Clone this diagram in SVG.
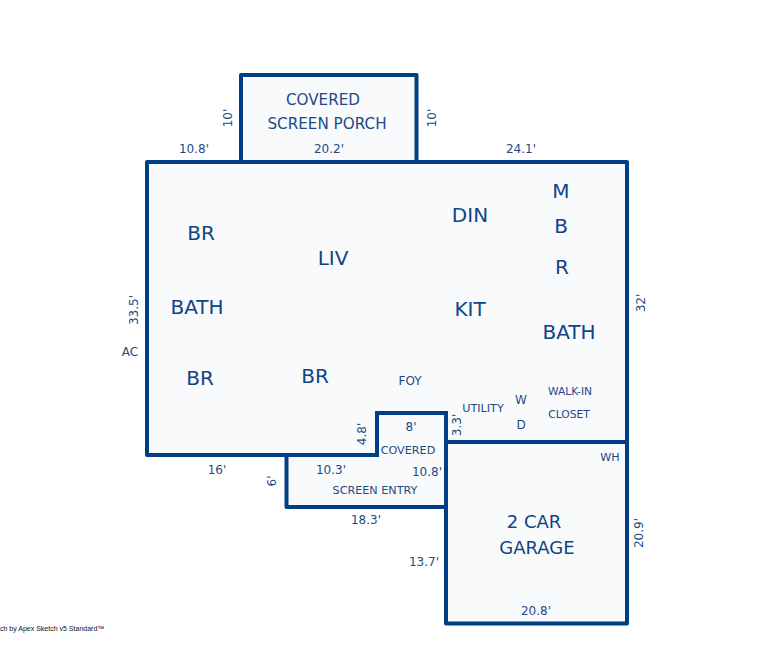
<svg xmlns="http://www.w3.org/2000/svg" width="767" height="653" viewBox="0 0 767 653">
<style>
text{font-family:"DejaVu Sans",sans-serif;fill:#1f4a85;text-anchor:middle}
.w{fill:#f9fafc;stroke:#003f84;stroke-width:4;stroke-linejoin:round;stroke-linecap:round}
.l{fill:none;stroke:#003f84;stroke-width:4;stroke-linecap:round}
.r{font-size:20px;fill:#0f4485}
.g{font-size:18px;fill:#0f4485}
.m{font-size:15.2px}
.s{font-size:12px}
.x{font-size:11.2px}
.n{font-size:10.7px}
.f{font-family:"Liberation Sans",sans-serif;font-size:7px;fill:#111;text-anchor:start}
</style>
<g id="floor-plan">
<path id="porch" class="w" d="M241 162V75H416.500V162Z"/>
<path id="main" class="w" d="M147 162H627V623.500H446V507H286.500V455H147Z"/>
</g>
<g id="connectors">
<path class="l" d="M286.500 455H377V413H446V507"/>
<path class="l" d="M446 442H627"/>
</g>
<g id="labels">
<text class="m" x="323" y="105">COVERED</text>
<text class="m" x="327" y="129">SCREEN PORCH</text>
<text class="s" x="194" y="153">10.8'</text>
<text class="s" x="329" y="153">20.2'</text>
<text class="s" x="521" y="153">24.1'</text>
<text class="s" transform="translate(232,118) rotate(-90)">10'</text>
<text class="s" transform="translate(436,118) rotate(-90)">10'</text>
<text class="r" x="201" y="240">BR</text>
<text class="r" x="333" y="265">LIV</text>
<text class="r" x="470" y="222">DIN</text>
<text class="r" x="561" y="198">M</text>
<text class="r" x="561" y="233">B</text>
<text class="r" x="562" y="274">R</text>
<text class="r" x="197" y="314">BATH</text>
<text class="r" x="470" y="316">KIT</text>
<text class="r" x="569" y="339">BATH</text>
<text class="r" x="200" y="385">BR</text>
<text class="r" x="315" y="383">BR</text>
<text class="s" x="410" y="385">FOY</text>
<text class="s" transform="translate(138,310) rotate(-90)">33.5'</text>
<text class="s" x="130" y="356">AC</text>
<text class="s" transform="translate(645,303) rotate(-90)">32'</text>
<text class="x" x="483" y="412">UTILITY</text>
<text class="s" x="521" y="404">W</text>
<text class="s" x="521" y="429">D</text>
<text class="n" x="570" y="395">WALK-IN</text>
<text class="n" x="569" y="418">CLOSET</text>
<text class="x" x="610" y="461">WH</text>
<text class="s" x="411" y="431">8'</text>
<text class="s" transform="translate(366,434) rotate(-90)">4.8'</text>
<text class="s" transform="translate(461,425) rotate(-90)">3.3'</text>
<text class="x" x="408" y="454">COVERED</text>
<text class="s" x="331" y="474">10.3'</text>
<text class="s" x="427" y="476">10.8'</text>
<text class="x" x="375" y="494">SCREEN ENTRY</text>
<text class="s" x="217" y="474">16'</text>
<text class="s" transform="translate(276,481) rotate(-90)">6'</text>
<text class="s" x="366" y="524">18.3'</text>
<text class="s" x="424" y="566">13.7'</text>
<text class="g" x="534" y="528">2 CAR</text>
<text class="g" x="537" y="554">GARAGE</text>
<text class="s" transform="translate(643,533) rotate(-90)">20.9'</text>
<text class="s" x="536" y="615">20.8'</text>
<text class="f" x="0" y="631">ch by Apex Sketch v5 Standard™</text>
</g>
</svg>
